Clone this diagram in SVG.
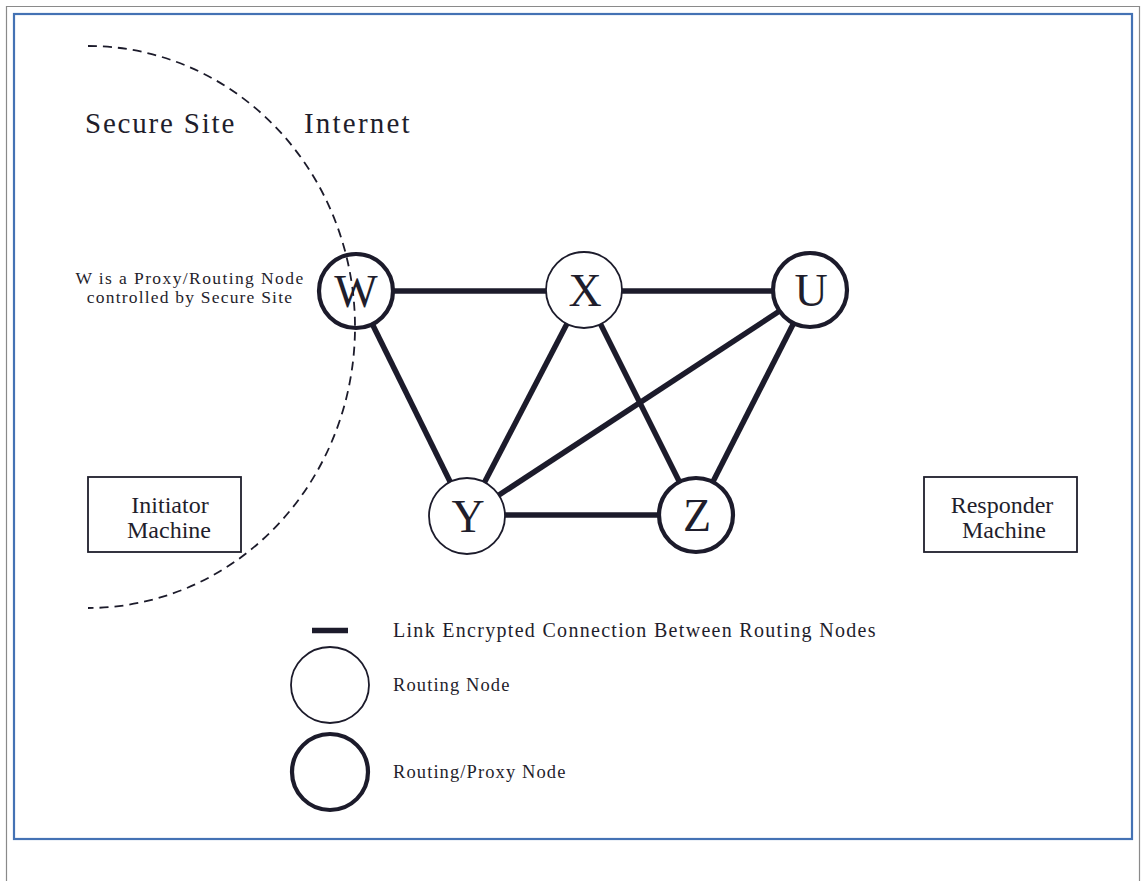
<svg xmlns="http://www.w3.org/2000/svg" width="1141" height="881" viewBox="0 0 1141 881">
  <style>
    .serif { font-family: "Liberation Serif", "Times New Roman", serif; fill: #1f1e2c; }
    .node { fill: #ffffff; stroke: #1c1b2b; }
    .thin { stroke-width: 1.8; }
    .thick { stroke-width: 4.2; }
    .letter { font-size: 46px; text-anchor: middle; }
    .link { stroke: #1c1b2b; stroke-width: 5.5; stroke-linecap: butt; }
    .box { fill: #ffffff; stroke: #1f1e2c; stroke-width: 1.8; }
    .boxtext { font-size: 24px; text-anchor: middle; }
    .legend { font-size: 18.5px; letter-spacing: 1.1px; }
  </style>

  <!-- page frame -->
  <rect x="0" y="0" width="1141" height="881" fill="#ffffff"/>
  <path d="M6.5 881 V6.5 H1139.5 V881" fill="none" stroke="#8a8a8a" stroke-width="1.2"/>
  <rect x="14" y="14" width="1118" height="825" fill="none" stroke="#4472b4" stroke-width="2.2"/>

  <!-- region labels -->
  <text class="serif" x="85" y="133" font-size="29" letter-spacing="1.8">Secure Site</text>
  <text class="serif" x="304" y="133" font-size="29" letter-spacing="2.2">Internet</text>

  <g id="w-note">
    <text class="serif" x="190" y="284" font-size="17.5" letter-spacing="1.4" text-anchor="middle">W is a Proxy/Routing Node</text>
    <text class="serif" x="190" y="303" font-size="17.5" letter-spacing="1.2" text-anchor="middle">controlled by Secure Site</text>
  </g>

  <!-- links between routing nodes -->
  <g id="connectors">
    <line class="link" x1="356" y1="291" x2="584" y2="291"/>
    <line class="link" x1="584" y1="291" x2="810" y2="291"/>
    <line class="link" x1="356" y1="291" x2="467" y2="516"/>
    <line class="link" x1="584" y1="291" x2="467" y2="516"/>
    <line class="link" x1="584" y1="291" x2="696" y2="515"/>
    <line class="link" x1="810" y1="291" x2="467" y2="516"/>
    <line class="link" x1="810" y1="291" x2="696" y2="515"/>
    <line class="link" x1="467" y1="515" x2="696" y2="515"/>
  </g>

  <g id="node-W">
    <circle class="node thick" cx="356" cy="291" r="37"/>
    <text class="serif letter" x="356" y="307">W</text>
  </g>
  <g id="node-X">
    <circle class="node thin" cx="584" cy="290" r="38"/>
    <text class="serif letter" x="585" y="306">X</text>
  </g>
  <g id="node-U">
    <circle class="node thick" cx="810" cy="290" r="37"/>
    <text class="serif letter" x="811" y="306">U</text>
  </g>
  <g id="node-Y">
    <circle class="node thin" cx="467" cy="516" r="38"/>
    <text class="serif letter" x="468" y="532">Y</text>
  </g>
  <g id="node-Z">
    <circle class="node thick" cx="696" cy="515" r="37"/>
    <text class="serif letter" x="697" y="531">Z</text>
  </g>

  <!-- boundary of the secure site -->
  <path d="M88 46 A267 281 0 0 1 88 608" fill="none" stroke="#1c1b2b" stroke-width="1.8" stroke-dasharray="9 6"/>

  <g id="initiator">
    <rect class="box" x="88" y="477" width="153" height="75"/>
    <text class="serif boxtext" x="170" y="513">Initiator</text>
    <text class="serif boxtext" x="169" y="538">Machine</text>
  </g>
  <g id="responder">
    <rect class="box" x="924" y="477" width="153" height="75"/>
    <text class="serif boxtext" x="1002" y="513">Responder</text>
    <text class="serif boxtext" x="1004" y="538">Machine</text>
  </g>

  <!-- legend -->
  <g id="legend">
    <line class="link" x1="312" y1="630.5" x2="348" y2="630.5" stroke-width="6"/>
    <text class="serif" x="393" y="637" font-size="20" letter-spacing="1.3">Link Encrypted Connection Between Routing Nodes</text>
    <ellipse class="node thin" cx="330" cy="685" rx="39" ry="38"/>
    <text class="serif legend" x="393" y="691">Routing Node</text>
    <ellipse class="node thick" cx="330" cy="772" rx="38" ry="38"/>
    <text class="serif legend" x="393" y="778">Routing/Proxy Node</text>
  </g>
</svg>
